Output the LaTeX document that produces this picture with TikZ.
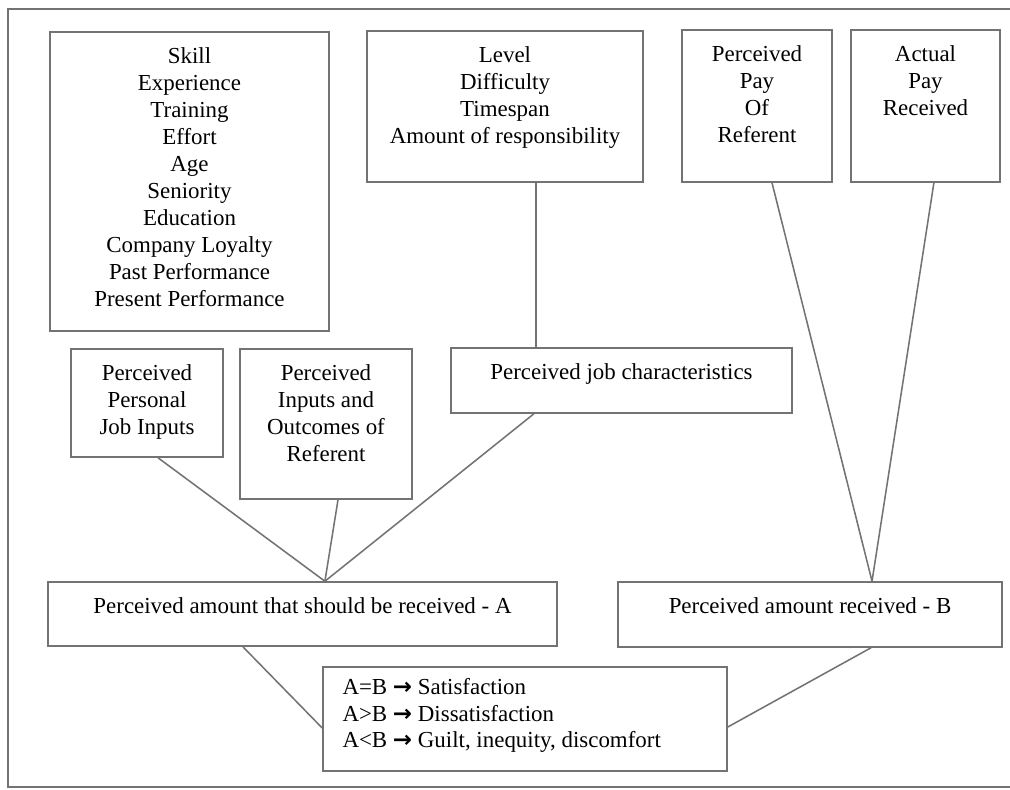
\documentclass[tikz,border=0pt]{standalone}
\usepackage{fontspec}
\setmainfont{Liberation Serif}
\newfontfamily\arrowfnt{DejaVu Sans}
\usetikzlibrary{positioning,calc}

\newcommand{\thickarrow}{{\arrowfnt\bfseries →}}

\begin{document}
\begin{tikzpicture}[x=0.25mm, y=-0.25mm,
    box/.style={draw=black!55, line width=1.1pt, inner sep=0pt},
    txt/.style={anchor=north, inner sep=0pt, yshift=-3.25mm, align=center,
        font=\fontsize{16.3}{19.2}\selectfont},
    link/.style={draw=black!55, line width=1.1pt}]
    \useasboundingbox (0,0) rectangle (1010,789);
    % Frame
    \draw[black!55, line width=1.1pt] (8,9) rectangle (1014,787);

    % Top row
    \node[box, minimum width=69.75mm, minimum height=74.75mm] (skills) at (189.5,181.5) {};
    \node[txt] (skillstxt) at (skills.north) {\strut Skill\\Experience\\Training\\Effort\\Age\\Seniority\\Education\\Company Loyalty\\Past Performance\\Present Performance};
    \node[box, minimum width=69mm, minimum height=37.75mm] (levels) at (505,106.5) {};
    \node[txt] (levelstxt) at (levels.north) {\strut Level\\Difficulty\\Timespan\\Amount of responsibility};
    \node[box, minimum width=37.5mm, minimum height=38mm] (payref) at (757,106) {};
    \node[txt] (payreftxt) at (payref.north) {\strut Perceived\\Pay\\Of\\Referent};
    \node[box, minimum width=37.25mm, minimum height=38mm] (actual) at (925.5,106) {};
    \node[txt] (actualtxt) at (actual.north) {\strut Actual\\Pay\\Received};

    % Middle row
    \node[box, minimum width=38mm, minimum height=27mm] (personal) at (147,403) {};
    \node[txt] (personaltxt) at (personal.north) {\strut Perceived\\Personal\\Job Inputs};
    \node[box, minimum width=43mm, minimum height=37.5mm] (inout) at (326,424) {};
    \node[txt] (inouttxt) at (inout.north) {\strut Perceived\\Inputs and\\Outcomes of\\Referent};
    \node[box, minimum width=85.25mm, minimum height=16.25mm] (jobchar) at (621.5,380.5) {};
    \node[txt] (jobchartxt) at (jobchar.north) {\strut Perceived job characteristics};

    % Amounts A and B
    \node[box, minimum width=127.25mm, minimum height=16mm] (amtA) at (302.5,614) {};
    \node[txt] (amtAtxt) at (amtA.north) {\strut Perceived amount that should be received - A};
    \node[box, minimum width=96mm, minimum height=16.25mm] (amtB) at (810,614.5) {};
    \node[txt] (amtBtxt) at (amtB.north) {\strut Perceived amount received - B};

    % Result
    \node[box, minimum width=101mm, minimum height=26mm] (result) at (525,719) {};
    \node[txt, anchor=north west, align=left, xshift=5mm, yshift=1.1mm] (resulttxt) at (result.north west)
        {\strut A=B \thickarrow{} Satisfaction\\A>B \thickarrow{} Dissatisfaction\\A<B \thickarrow{} Guilt, inequity, discomfort};

    % Connectors
    \coordinate (pa) at ([xshift=5.6mm]amtA.north);
    \coordinate (pb) at ([xshift=15.5mm]amtB.north);
    \draw[link] ([xshift=7.75mm]levels.south) -- ([xshift=7.75mm]levels.south |- jobchar.north);
    \draw[link] ([xshift=2.75mm]personal.south) -- (pa);
    \draw[link] ([xshift=3mm]inout.south) -- (pa);
    \draw[link] ([xshift=-21.9mm]jobchar.south) -- (pa);
    \draw[link] ([xshift=3.75mm]payref.south) -- (pb);
    \draw[link] ([xshift=2.1mm]actual.south) -- (pb);
    \draw[link] ([xshift=-14.9mm]amtA.south) -- ([yshift=-2.25mm]result.west);
    \draw[link] ([xshift=15.25mm]amtB.south) -- ([yshift=-2mm]result.east);
\end{tikzpicture}
\end{document}
